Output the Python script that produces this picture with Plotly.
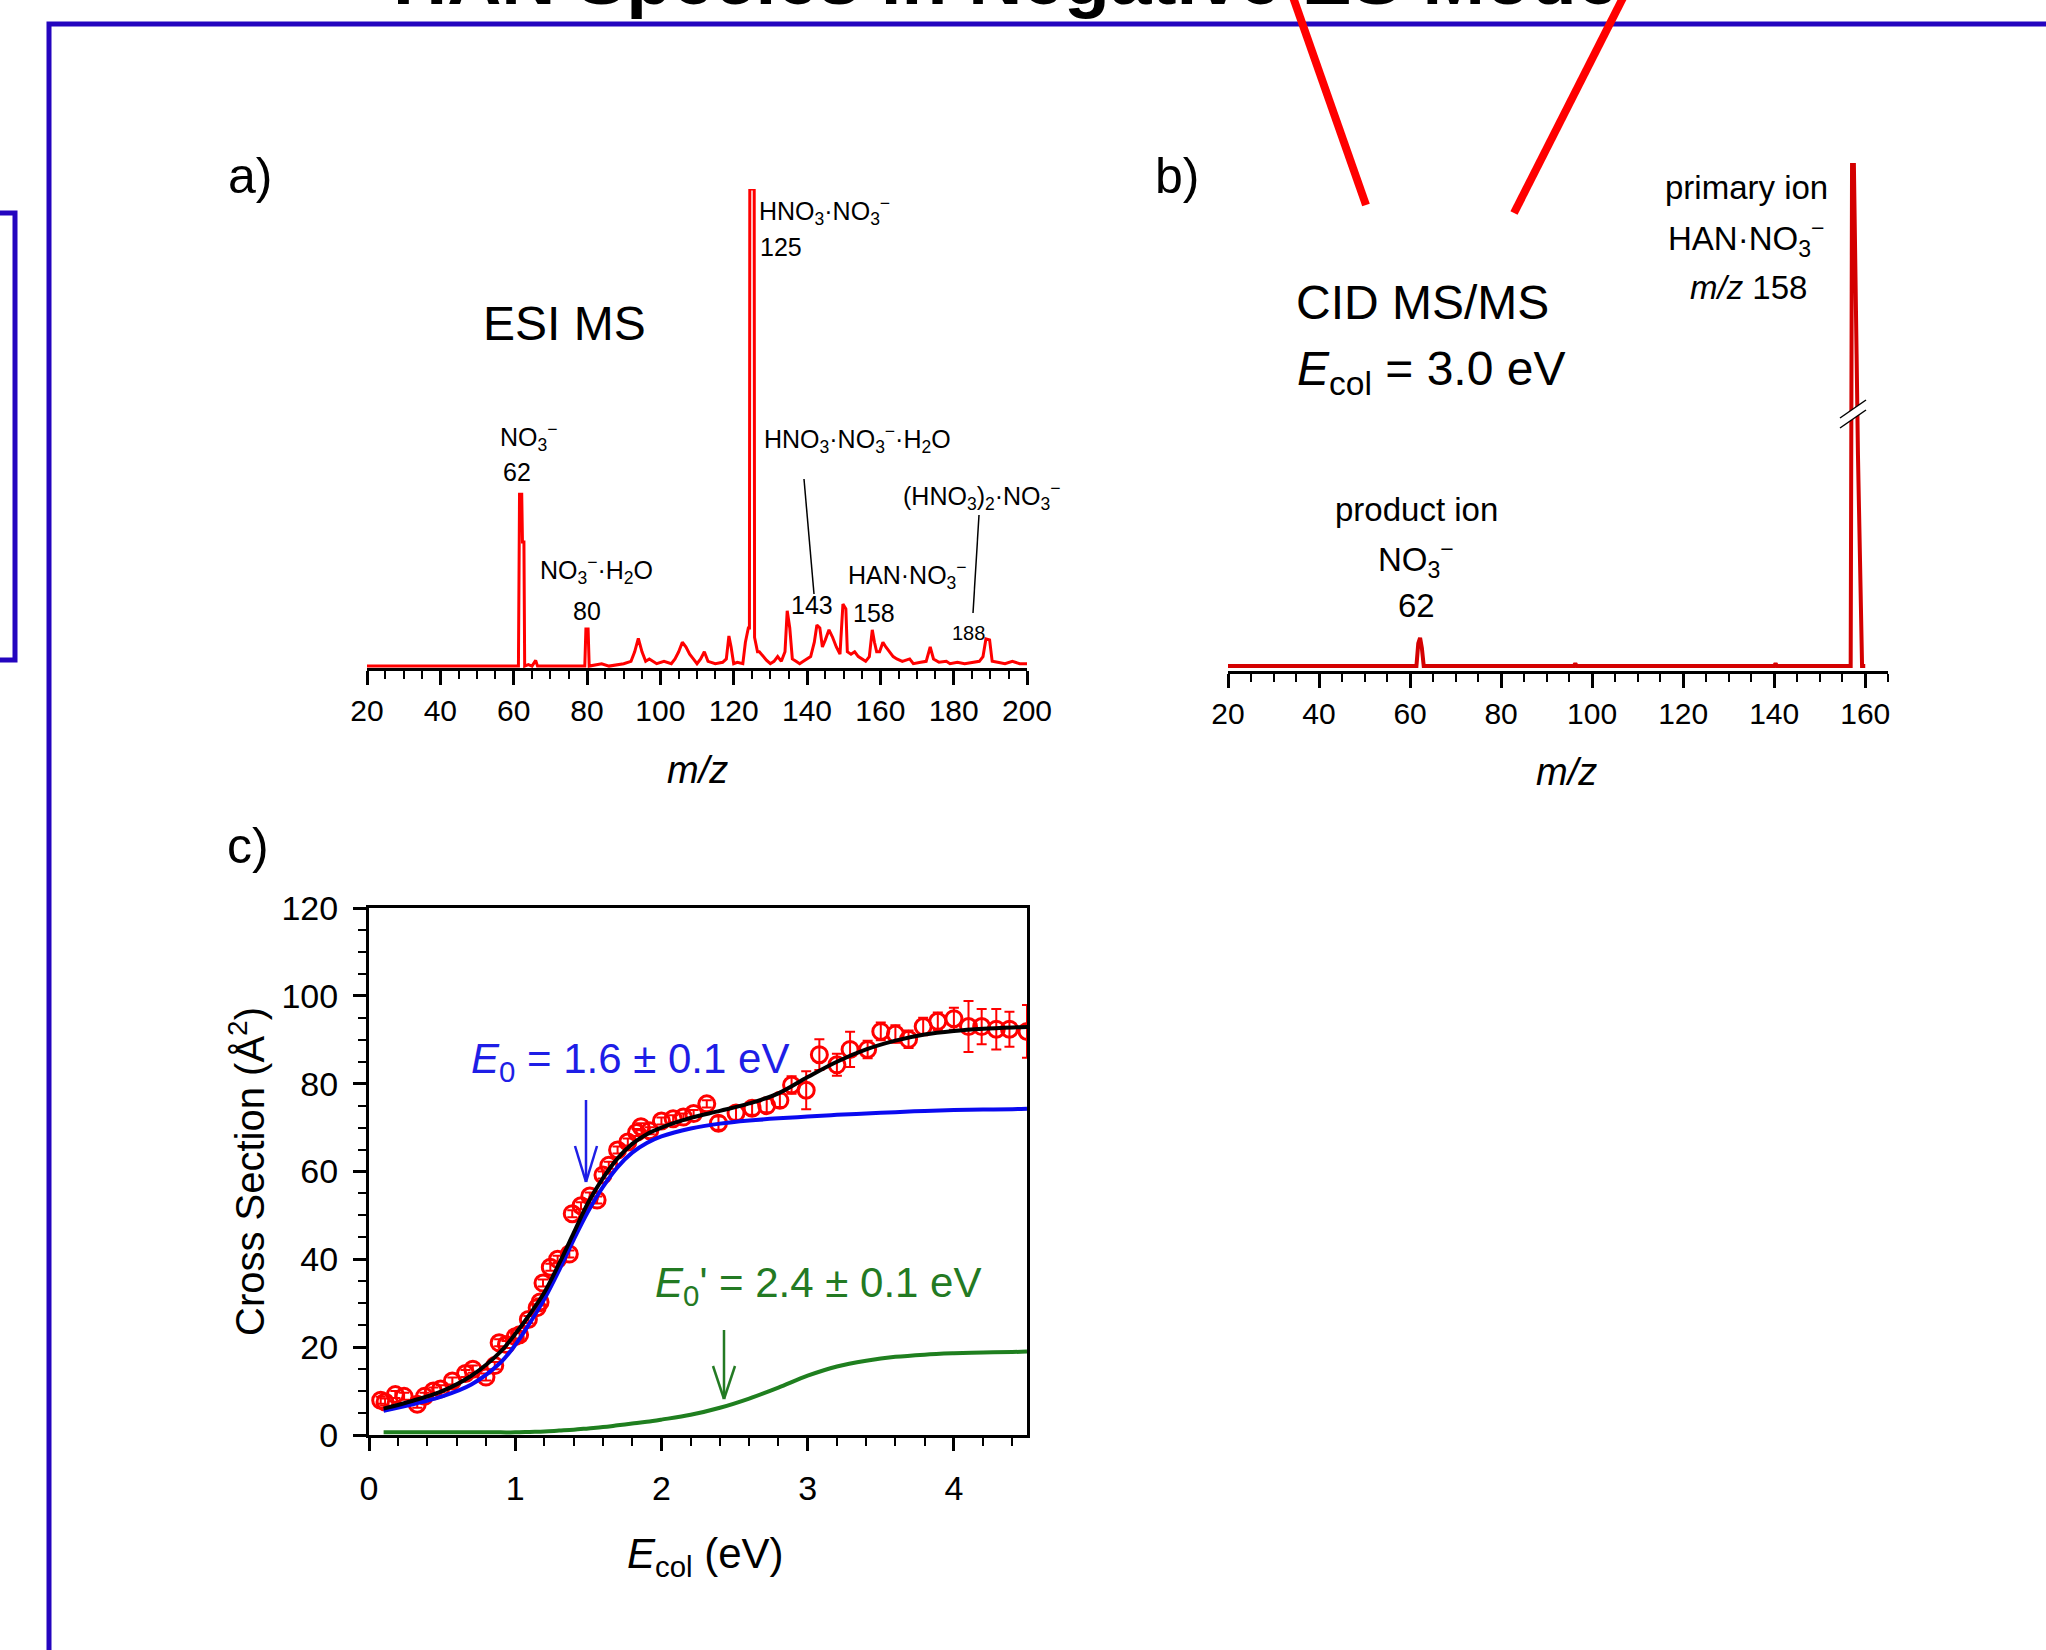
import plotly.graph_objects as go

W, H = 2046, 1650
FONT = "Liberation Sans, Arial, sans-serif"


def fx(p):
    return p / W


def fy(p):
    return 1 - p / H


# ---------------- data ----------------
# a) ESI mass spectrum (relative intensity, m/z 125 = 100)
esi_mz = [20, 61.3, 61.6, 62.2, 62.4, 62.8, 63.0, 64, 65, 66, 66.5, 70, 79.4, 79.7, 80.3, 80.6,
          84, 86, 90, 92, 93, 94, 95, 96, 97, 99, 101, 103, 104, 105, 106, 107, 108, 109, 110,
          111, 112, 113, 115, 117, 118, 118.7, 119.3, 120, 121, 122.5, 123.2, 124.0, 124.3,
          124.4, 125.6, 125.7, 126.5, 127, 128, 129, 130, 131, 132, 133, 134, 134.6, 135.3, 136,
          137, 138, 139, 140, 141, 142, 142.7, 143.5, 144.2, 145, 146, 147, 148, 149, 149.8,
          150.6, 151, 152, 153, 154, 155, 156, 157, 157.8, 158.4, 159, 159.8, 160.7, 161.5,
          162.5, 163.5, 164.5, 166, 168, 169, 171, 172.5, 173.6, 174.5, 176, 178, 179, 181, 183,
          185, 187, 188, 188.8, 189.8, 190.5, 192, 194, 196, 197, 198, 200]
esi_int = [0, 0, 36, 36, 26, 26, 0, 0.3, 0, 1.2, 0, 0, 0, 7.8, 7.8, 0,
           0.5, 0, 0.5, 1, 3, 5.8, 3, 1, 1.5, 0.5, 1, 0.5, 1.5, 3, 5, 4, 2.5, 1.5, 0.5,
           1.5, 3, 1, 0.5, 0.8, 1.5, 6.3, 4, 0.5, 0.8, 0.5, 5, 8, 8,
           100, 100, 6, 3, 3, 2, 1.2, 0.5, 1, 2, 1, 3, 11.6, 8, 1.5,
           1, 0.5, 1, 1.5, 2, 5, 8.6, 8, 4, 5.5, 7.6, 6, 4, 2.5, 13,
           12, 3, 2.5, 3, 2, 1.5, 1, 2, 7.6, 5, 3, 3, 5, 4,
           3, 2, 1.5, 1, 1.5, 0.5, 0.8, 1, 4, 1.5, 0.8, 1, 0.5, 0.8, 0.5,
           0.8, 1, 2, 5.7, 5.5, 1, 0.8, 0.5, 1, 0.8, 0.5, 0.5]

# b) CID MS/MS spectrum (m/z 158 = 100, axis broken)
cid_mz = [20, 61.4, 61.8, 62.2, 62.6, 63.0, 96, 96.3, 96.6, 140, 140.3, 140.6,
          156.8, 157.1, 157.5, 157.8, 158.1, 158.4, 158.7, 159.0, 159.3, 160]
cid_int = [0, 0, 4.5, 5.6, 3.5, 0, 0, 0.5, 0, 0, 0.5, 0,
           0, 100, 100, 85, 62, 42, 25, 8, 0, 0]

# c) cross section vs collision energy
e_col = [0.08, 0.11, 0.18, 0.24, 0.33, 0.38, 0.44, 0.49, 0.57, 0.66,
         0.71, 0.80, 0.86, 0.89, 0.94, 1.00, 1.03, 1.09, 1.15, 1.17,
         1.19, 1.24, 1.29, 1.37, 1.39, 1.45, 1.51, 1.56, 1.60, 1.64,
         1.70, 1.77, 1.83, 1.86, 1.92, 2.00, 2.08, 2.15, 2.22, 2.31,
         2.39, 2.51, 2.62, 2.72, 2.81, 2.89, 2.99, 3.08, 3.20, 3.29,
         3.41, 3.50, 3.60, 3.69, 3.79, 3.89, 4.00, 4.10, 4.19, 4.29,
         4.38, 4.50]
sigma = [7.9, 7.5, 9.2, 8.8, 7.0, 8.8, 10.0, 10.5, 12.3, 14.0,
         15.0, 13.2, 15.8, 21.0, 20.6, 22.4, 22.8, 26.3, 29.0, 30.3,
         34.6, 38.2, 40.0, 41.2, 50.4, 52.2, 54.4, 53.5, 59.2, 61.4,
         64.9, 66.7, 68.9, 70.2, 69.3, 71.5, 72.0, 72.4, 73.2, 75.4,
         71.0, 73.3, 74.4, 75.0, 76.2, 79.7, 78.5, 86.6, 84.3, 87.8,
         87.8, 91.9, 91.3, 90.1, 93.0, 94.2, 94.8, 93.0, 93.0, 92.4,
         92.4, 91.9]
sigma_err = [0.8] * 40 + [1.5, 1.5, 1.5, 1.5, 1.5, 2.0, 4.3, 3.5, 2.5, 4.0,
                          2.0, 2.0, 2.0, 2.0, 2.0, 2.0, 2.5, 5.8, 4.0, 4.6,
                          4.0, 6.0]

fit_e = [0.1, 0.3, 0.5, 0.7, 0.9, 1.0, 1.1, 1.2, 1.3, 1.4, 1.5, 1.6, 1.7, 1.8, 1.9, 2.0,
         2.2, 2.4, 2.6, 2.8, 3.0, 3.2, 3.4, 3.6, 3.8, 4.0, 4.2, 4.4, 4.5]
fit_main = [5.5, 7.0, 8.8, 11.5, 16.5, 20.5, 25.5, 31.0, 37.5, 44.5, 51.0, 56.5, 61.0, 64.3,
            66.5, 68.0, 69.8, 70.9, 71.6, 72.1, 72.5, 72.9, 73.2, 73.5, 73.8, 74.0, 74.1,
            74.2, 74.3]
fit_total = [6.0, 7.8, 10.0, 13.5, 19.0, 23.0, 27.5, 32.5, 39.0, 46.0, 53.0, 58.5, 63.0,
             66.3, 68.5, 70.0, 72.2, 73.8, 75.5, 77.8, 81.5, 85.0, 87.8, 89.8, 91.2, 92.0,
             92.5, 92.8, 92.9]
fit_second = [0.6, 0.6, 0.6, 0.6, 0.6, 0.6, 0.7, 0.8, 1.0, 1.2, 1.5, 1.8, 2.2, 2.6, 3.0,
              3.5, 4.6, 6.2, 8.3, 10.8, 13.5, 15.6, 16.9, 17.8, 18.3, 18.6, 18.8, 18.9, 19.0]

# ---------------- figure ----------------
fig = go.Figure()

RED = "#FF0000"
fig.add_trace(go.Scatter(x=esi_mz, y=esi_int, mode="lines", line=dict(color=RED, width=3),
                         xaxis="x", yaxis="y", showlegend=False))
fig.add_trace(go.Scatter(x=cid_mz, y=cid_int, mode="lines", line=dict(color="#D40000", width=4),
                         xaxis="x2", yaxis="y2", showlegend=False))

fig.add_trace(go.Scatter(x=fit_e, y=fit_second, mode="lines", line=dict(color="#1F7F1F", width=4, shape="spline"),
                         xaxis="x3", yaxis="y3", showlegend=False))
fig.add_trace(go.Scatter(x=e_col, y=sigma, mode="markers",
                         marker=dict(symbol="circle-open", size=16, color=RED, line=dict(width=3, color=RED)),
                         error_y=dict(type="data", array=sigma_err, color=RED, thickness=2, width=5),
                         xaxis="x3", yaxis="y3", showlegend=False))
fig.add_trace(go.Scatter(x=fit_e, y=fit_main, mode="lines", line=dict(color="#0A0AF0", width=4, shape="spline"),
                         xaxis="x3", yaxis="y3", showlegend=False))
fig.add_trace(go.Scatter(x=fit_e, y=fit_total, mode="lines", line=dict(color="black", width=4, shape="spline"),
                         xaxis="x3", yaxis="y3", showlegend=False))

tick_common = dict(showgrid=False, zeroline=False, showline=True, linecolor="black",
                   ticks="outside", tickcolor="black")

fig.update_layout(
    width=W, height=H,
    margin=dict(l=0, r=0, t=0, b=0, pad=0, autoexpand=False),
    paper_bgcolor="white", plot_bgcolor="rgba(0,0,0,0)",
    font=dict(family=FONT, color="black"),
    xaxis=dict(domain=[fx(367), fx(1027)], range=[20, 200], anchor="y",
               tickmode="linear", tick0=20, dtick=20, ticklen=14, tickwidth=2.5, linewidth=3,
               tickfont=dict(size=30, family=FONT),
               minor=dict(tickmode="linear", tick0=20, dtick=5, ticklen=8, tickwidth=2, ticks="outside",
                          tickcolor="black"),
               **tick_common),
    yaxis=dict(domain=[fy(668), fy(189)], range=[-0.4, 100], visible=False, anchor="x"),
    xaxis2=dict(domain=[fx(1228), fx(1888)], range=[20, 165], anchor="y2",
                tickmode="linear", tick0=20, dtick=20, ticklen=14, tickwidth=2.5, linewidth=3,
                tickfont=dict(size=30, family=FONT),
                minor=dict(tickmode="linear", tick0=20, dtick=5, ticklen=8, tickwidth=2, ticks="outside",
                           tickcolor="black"),
                **tick_common),
    yaxis2=dict(domain=[fy(671), fy(163)], range=[-1.0, 100], visible=False, anchor="x2"),
    xaxis3=dict(domain=[fx(369), fx(1027)], range=[0, 4.5], anchor="y3", mirror=True,
                tickmode="linear", tick0=0, dtick=1, ticklen=13, tickwidth=2.5, linewidth=3,
                tickfont=dict(size=34, family=FONT), ticklabelstandoff=8,
                minor=dict(tickmode="linear", tick0=0, dtick=0.2, ticklen=8, tickwidth=2, ticks="outside",
                           tickcolor="black"),
                **tick_common),
    yaxis3=dict(domain=[fy(1435), fy(908)], range=[0, 120], anchor="x3", mirror=True,
                tickmode="linear", tick0=0, dtick=20, ticklen=13, tickwidth=2.5, linewidth=3,
                tickfont=dict(size=34, family=FONT), ticklabelstandoff=8,
                minor=dict(tickmode="linear", tick0=0, dtick=5, ticklen=8, tickwidth=2, ticks="outside",
                           tickcolor="black"),
                **tick_common),
)


def txt(text, x, y, size, color="black", xanchor="center", yanchor="middle", angle=0):
    return dict(text=text, x=fx(x), y=fy(y), xref="paper", yref="paper", showarrow=False,
                font=dict(size=size, color=color, family=FONT), xanchor=xanchor, yanchor=yanchor,
                textangle=angle)


NO3 = "NO<sub>3</sub><sup>−</sup>"
ann = [
    txt("<b>HAN Species in Negative ES Mode</b>", 1005, 22, 75, yanchor="bottom"),
    txt("a)", 250, 176, 50),
    txt("b)", 1177, 176, 50),
    txt("c)", 248, 846, 50),
    # panel a
    txt("ESI MS", 564, 324, 48),
    txt("HNO<sub>3</sub>·" + NO3, 757, 211, 25, xanchor="left"),
    txt("125", 781, 247, 25),
    txt(NO3, 528, 437, 25),
    txt("62", 517, 472, 25),
    txt(NO3 + "·H<sub>2</sub>O", 596, 570, 25),
    txt("80", 587, 611, 25),
    txt("HNO<sub>3</sub>·" + NO3 + "·H<sub>2</sub>O", 857, 439, 25),
    txt("143", 812, 605, 25),
    txt("HAN·" + NO3, 907, 575, 25),
    txt("158", 874, 613, 25),
    txt("(HNO<sub>3</sub>)<sub>2</sub>·" + NO3, 981, 496, 25),
    txt("188", 968, 633, 20),
    txt("<i>m/z</i>", 697, 770, 38),
    # panel b
    txt("CID MS/MS", 1422, 303, 48),
    txt("<i>E</i><sub>col</sub> = 3.0 eV", 1431, 372, 48),
    txt("primary ion", 1746, 188, 33),
    txt("HAN·" + NO3, 1746, 239, 33),
    txt("<i>m/z</i> 158", 1748, 287, 33),
    txt("product ion", 1416, 509, 33),
    txt(NO3, 1416, 560, 33),
    txt("62", 1416, 605, 33),
    txt("<i>m/z</i>", 1566, 772, 38),
    # panel c
    txt("<i>E</i><sub>0</sub> = 1.6 ± 0.1 eV", 630, 1061, 42, color="#1E1EE6"),
    txt("<i>E</i><sub>0</sub>' = 2.4 ± 0.1 eV", 818, 1285, 42, color="#237A23"),
    txt("Cross Section (Å<sup>2</sup>)", 247, 1172, 40, angle=-90),
    txt("<i>E</i><sub>col</sub> (eV)", 705, 1556, 42),
]
fig.update_layout(annotations=ann)


def line(x0, y0, x1, y1, color, width):
    return dict(type="line", xref="paper", yref="paper", x0=fx(x0), y0=fy(y0), x1=fx(x1), y1=fy(y1),
                line=dict(color=color, width=width), layer="above")


BLUE_FRAME = "#2405BF"
shapes = [
    # slide frames
    dict(type="rect", xref="paper", yref="paper", x0=fx(49), y0=fy(1700), x1=fx(2100), y1=fy(24),
         line=dict(color=BLUE_FRAME, width=5), fillcolor="rgba(0,0,0,0)", layer="above"),
    dict(type="rect", xref="paper", yref="paper", x0=fx(-30), y0=fy(660), x1=fx(15), y1=fy(213),
         line=dict(color=BLUE_FRAME, width=5), fillcolor="rgba(0,0,0,0)", layer="above"),
    # red V lines
    line(1287, -20, 1366, 205, "#FF0000", 8),
    line(1632, -20, 1514, 213, "#FF0000", 8),
    # leader lines panel a
    line(804, 479, 814, 594, "black", 1.5),
    line(979, 515, 973, 613, "black", 1.5),
    # axis break on panel b peak
    dict(type="path", xref="paper", yref="paper",
         path=f"M {fx(1840)} {fy(418)} L {fx(1866)} {fy(400)} L {fx(1866)} {fy(410)} L {fx(1840)} {fy(428)} Z",
         fillcolor="white", line=dict(color="white", width=0), layer="above"),
    line(1840, 418, 1866, 400, "black", 1.5),
    line(1840, 428, 1866, 410, "black", 1.5),
    # arrows panel c
    line(586, 1100, 586, 1182, "#1E1EE6", 2.5),
    line(575, 1146, 586, 1182, "#1E1EE6", 2.5),
    line(597, 1146, 586, 1182, "#1E1EE6", 2.5),
    line(724, 1330, 724, 1399, "#237A23", 2.5),
    line(713, 1366, 724, 1399, "#237A23", 2.5),
    line(735, 1366, 724, 1399, "#237A23", 2.5),
]
fig.update_layout(shapes=shapes)

fig.write_html("out.html")
